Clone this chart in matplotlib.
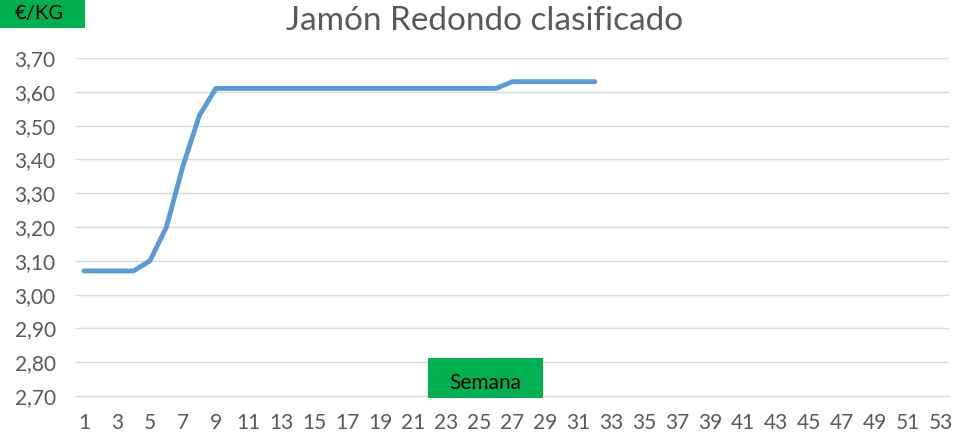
import matplotlib
matplotlib.use("Agg")
import matplotlib.pyplot as plt
from matplotlib.ticker import FuncFormatter

weeks = list(range(1, 33))
prices = [3.07, 3.07, 3.07, 3.07, 3.10, 3.20, 3.38, 3.53, 3.61, 3.61,
          3.61, 3.61, 3.61, 3.61, 3.61, 3.61, 3.61, 3.61, 3.61, 3.61,
          3.61, 3.61, 3.61, 3.61, 3.61, 3.61, 3.63, 3.63, 3.63, 3.63,
          3.63, 3.63]
xticks = list(range(1, 54, 2))
yticks = [2.70, 2.80, 2.90, 3.00, 3.10, 3.20, 3.30, 3.40, 3.50, 3.60, 3.70]

plt.rcParams['font.family'] = ['Lato', 'DejaVu Sans']

fig = plt.figure(figsize=(9.55, 4.37), dpi=100)
W, H = 955, 437
ax = fig.add_axes([75.8 / W, 1 - 396 / H, (949.2 - 75.8) / W, 338 / H])

ax.plot(weeks, prices, color='#5B9BD5', linewidth=3.5, solid_capstyle='round',
        solid_joinstyle='round', zorder=3)

ax.set_xlim(0.5, 53.5)
ax.set_ylim(2.70, 3.70)
ax.set_xticks(xticks)
ax.set_xticklabels([str(x) for x in xticks])
ax.set_yticks(yticks)
ax.yaxis.set_major_formatter(FuncFormatter(lambda v, p: f"{v:.2f}".replace('.', ',')))
ax.grid(axis='y', color='#D9D9D9', linewidth=1.0)
ax.set_axisbelow(True)
for s in ['top', 'right', 'left']:
    ax.spines[s].set_visible(False)
ax.spines['bottom'].set_color('#D9D9D9')
ax.spines['bottom'].set_linewidth(1.0)
ax.tick_params(axis='both', length=0, labelsize=15, colors='#595959')
ax.tick_params(axis='y', pad=14.5)
ax.tick_params(axis='x', pad=12)

fig.text(485 / W, 1 - 21 / H, 'Jamón Redondo clasificado', ha='center', va='center',
         fontsize=24, color='#595959')

fig.patches.append(plt.Rectangle((0, 1 - 28 / H), 85 / W, 28 / H, transform=fig.transFigure,
                                 facecolor='#00B050', edgecolor='none', zorder=0))
fig.text(39 / W, 1 - 14 / H, '€/KG', ha='center', va='center', fontsize=14.5,
         color='black')

fig.patches.append(plt.Rectangle((428 / W, 1 - 398 / H), 115 / W, 40 / H,
                                 transform=fig.transFigure, facecolor='#00B050',
                                 edgecolor='none', zorder=5))
fig.text(485.5 / W, 1 - 383 / H, 'Semana', ha='center', va='center', fontsize=15,
         color='black', zorder=6)

fig.savefig('out.png', dpi=100)
